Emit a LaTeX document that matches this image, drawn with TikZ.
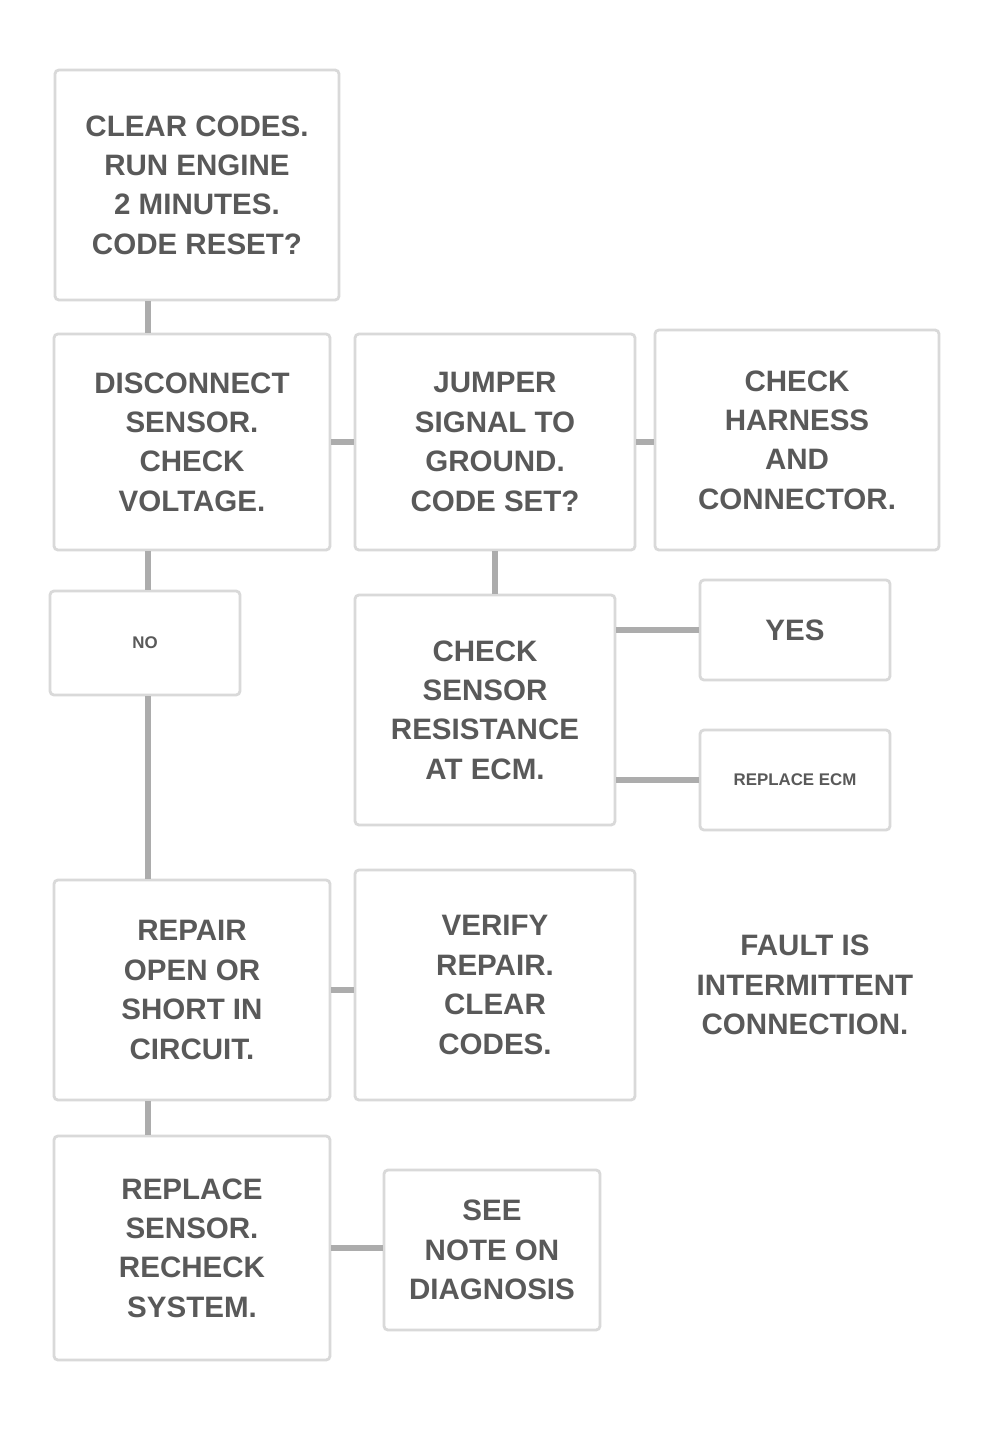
\documentclass[tikz,border=0pt]{standalone}
\usepackage{fontspec}
\setmainfont{Liberation Sans}
\usetikzlibrary{positioning}

\tikzset{
  chartbox/.style={draw=gray!30, line width=0.07cm, rounded corners=0.1cm,
    align=center, inner sep=0pt, text=gray!70!black,
    font=\fontsize{21}{28}\selectfont\bfseries},
  smallbox/.style={chartbox, font=\fontsize{12}{15}\selectfont\bfseries},
  plaintext/.style={align=center, text=gray!70!black,
    font=\fontsize{21}{28}\selectfont\bfseries},
  link/.style={draw=gray!65, line width=0.15cm},
}

\begin{document}
\begin{tikzpicture}[x=0.025cm, y=-0.025cm]
        \useasboundingbox[fill=white] (0,0) rectangle (997,1439);
        \coordinate (col) at (148,0);

        % first check
        \node[chartbox, minimum width=7.1cm, minimum height=5.75cm] (check) at (197,185)
          {CLEAR CODES.\\ RUN ENGINE\\ 2 MINUTES.\\ CODE RESET?};

        % second row
        \node[chartbox, minimum width=6.9cm, minimum height=5.4cm] (ohms) at (192,442)
          {DISCONNECT\\ SENSOR.\\ CHECK\\ VOLTAGE.};
        \node[chartbox, minimum width=7.0cm, minimum height=5.4cm] (volts) at (495,442)
          {JUMPER\\ SIGNAL TO\\ GROUND.\\ CODE SET?};
        \node[chartbox, minimum width=7.1cm, minimum height=5.5cm] (harness) at (797,440)
          {CHECK\\ HARNESS\\ AND\\ CONNECTOR.};

        \node[smallbox, minimum width=4.75cm, minimum height=2.6cm] (nobox) at (145,643) {NO};

        \node[chartbox, minimum width=6.5cm, minimum height=5.75cm] (sensor) at (485,710)
          {CHECK\\ SENSOR\\ RESISTANCE\\ AT ECM.};
        \node[chartbox, minimum width=4.75cm, minimum height=2.5cm] (yesbox) at (795,630) {YES};
        \node[smallbox, minimum width=4.75cm, minimum height=2.5cm] (ecmbox) at (795,780)
          {REPLACE ECM};

        % fourth row
        \node[chartbox, minimum width=6.9cm, minimum height=5.5cm] (repair) at (192,990)
          {REPAIR\\ OPEN OR\\ SHORT IN\\ CIRCUIT.};
        \node[chartbox, minimum width=7.0cm, minimum height=5.75cm] (codes) at (495,985)
          {VERIFY\\ REPAIR.\\ CLEAR\\ CODES.};
        \node[plaintext] (intermit) at (805,985)
          {FAULT IS\\ INTERMITTENT\\ CONNECTION.};

        % last row
        \node[chartbox, minimum width=6.9cm, minimum height=5.6cm] (final) at (192,1248)
          {REPLACE\\ SENSOR.\\ RECHECK\\ SYSTEM.};
        \node[chartbox, minimum width=5.4cm, minimum height=4.0cm] (note) at (492,1250)
          {SEE\\ NOTE ON\\ DIAGNOSIS};

        % connectors
        \draw[link] (check.south -| col) -- (ohms.north -| col);
        \draw[link] (ohms.east) -- (ohms.east -| volts.west);
        \draw[link] (volts.east) -- (volts.east -| harness.west);
        \draw[link] (ohms.south -| col) -- (nobox.north -| col);
        \draw[link] (volts.south) -- (volts.south |- sensor.north);
        \draw[link] (nobox.south -| col) -- (repair.north -| col);
        \draw[link] (yesbox.west -| sensor.east) -- (yesbox.west);
        \draw[link] (ecmbox.west -| sensor.east) -- (ecmbox.west);
        \draw[link] (repair.east) -- (repair.east -| codes.west);
        \draw[link] (repair.south -| col) -- (final.north -| col);
        \draw[link] (final.east) -- (final.east -| note.west);
      \end{tikzpicture}
\end{document}
